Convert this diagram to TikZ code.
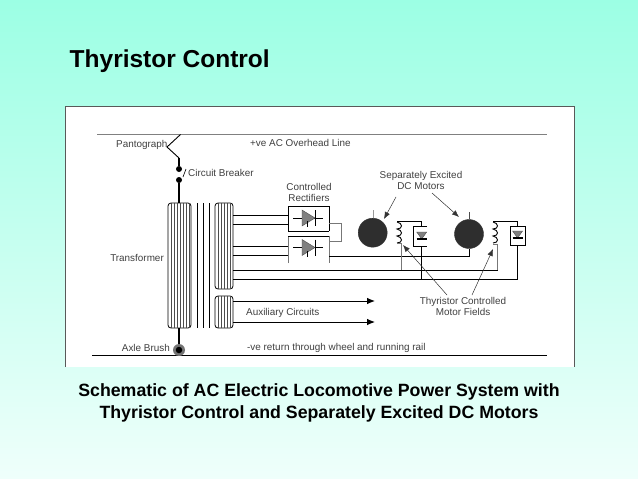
\documentclass[tikz,border=0pt]{standalone}
\usepackage{fontspec}
\setmainfont{Liberation Sans}
\usetikzlibrary{calc,arrows.meta}
\definecolor{slidetop}{HTML}{9CFFE4}
\definecolor{slidebot}{HTML}{EFFFFB}
\definecolor{wiregrey}{HTML}{777777}
\tikzset{
	lbl/.style={inner sep=0pt, text=black!75, font=\fontsize{9.9}{11}\selectfont, align=center},
	wire/.style={line width=0.9pt, color=black},
	thinwire/.style={line width=0.8pt, color=wiregrey},
	feed/.style={line width=1.6pt, color=black},
	pointer/.style={line width=0.5pt, color=black!80, -{Latex[length=7pt, width=5.5pt]}},
	auxfeed/.style={wire, -{Latex[length=8pt, width=6.5pt]}},
	motor/.style={circle, fill=black!82, draw=black!82, inner sep=0pt, minimum size=29pt},
	contact/.style={circle, fill=black, inner sep=0pt, minimum size=6pt},
	heading/.style={inner sep=0pt, font=\bfseries\fontsize{24.5}{28}\selectfont},
	caption/.style={inner sep=0pt, align=center, font=\bfseries\fontsize{17.75}{22}\selectfont}
}
% winding block with vertical hatching: left, top, right, bottom
\def\winding(#1,#2,#3,#4){
	\draw[line width=0.8pt, rounded corners=3pt] (#1, #2) rectangle (#3, #4);
	\foreach \hx in {3, 6, ..., 21} {
		\ifdim\dimexpr #1pt+\hx pt\relax<\dimexpr #3pt\relax
			\draw[line width=0.35pt, color=black!70] (#1+\hx, #2) -- (#1+\hx, #4);
		\fi
	}
}
% field coil: x, top
\def\fieldcoil(#1,#2){
	\draw[line width=0.9pt] (#1, #2) .. controls (#1+6, #2+1) and (#1+6, #2+7) .. (#1, #2+7)
		.. controls (#1+6, #2+8) and (#1+6, #2+14) .. (#1, #2+14)
		.. controls (#1+6, #2+15) and (#1+6, #2+21) .. (#1, #2+21);
}
% thyristor pointing right: centre x, centre y
\def\bigthyristor(#1,#2){
	\draw[line width=0.9pt] (#1-15, #2) -- (#1+15, #2);
	\draw[fill=black!50, draw=black!70] (#1-6, #2-8) -- (#1+7, #2) -- (#1-6, #2+8) -- cycle;
	\draw[line width=1.6pt] (#1+7.5, #2-8) -- (#1+7.5, #2+8);
	\draw[line width=0.8pt] (#1-1, #2+3) -- (#1-1, #2+9);
}
% small thyristor pointing down: centre x, centre y
\def\smallthyristor(#1,#2){
	\draw[fill=black!50, draw=black!70] (#1-5, #2-4) -- (#1+5, #2-4) -- (#1, #2+3) -- cycle;
	\draw[line width=1.1pt] (#1-5, #2+3) -- (#1+5, #2+3);
}

\begin{document}
\begin{tikzpicture}[x=1pt, y=-1pt]
	%%%%% SLIDE %%%%%
	\useasboundingbox (0, 0) rectangle (638, 479);
	\shade[top color=slidetop, bottom color=slidebot] (0, 0) rectangle (638, 479);
	\fill[white] (65, 106) rectangle (574, 367);
	\draw[line width=0.8pt, color=black!65] (65, 367) -- (65, 106) -- (574, 106) -- (574, 367);
	
	\node[heading, anchor=west] (title) at (69.5, 61) {Thyristor Control};
	\node[caption] (caption) at (319, 402.5) {Schematic of AC Electric Locomotive Power System with\\Thyristor Control and Separately Excited DC Motors};
	
	%%%%% LINES %%%%%
	\draw[line width=0.8pt, color=black!50] (97, 134.5) -- (547, 134.5);
	\draw[line width=0.9pt] (92, 355.5) -- (547, 355.5);
	
	\node[lbl, anchor=west] (pantograph) at (116, 145) {Pantograph};
	\node[lbl, anchor=west] (overhead) at (250, 143) {+ve AC Overhead Line};
	\node[lbl, anchor=west] (breaker) at (188, 173) {Circuit Breaker};
	\node[lbl] (controlled) at (309, 192) {Controlled\\Rectifiers};
	\node[lbl, anchor=east] (transformer) at (164, 258) {Transformer};
	\node[lbl, anchor=west] (auxiliary) at (246, 313) {Auxiliary Circuits};
	\node[lbl, anchor=east] (brush) at (170, 348) {Axle Brush};
	\node[lbl, anchor=west] (return) at (247, 348) {-ve return through wheel and running rail};
	\node[lbl] (excited) at (421, 180) {Separately Excited\\DC Motors};
	\node[lbl] (fields) at (463, 306.5) {Thyristor Controlled\\Motor Fields};
	
	%%%%% PANTOGRAPH %%%%%
	\coordinate (panTop) at (180.5, 134.5);
	\coordinate (panKnee) at (167, 147);
	\coordinate (panFoot) at (179, 158);
	\node[contact] (contactA) at (179, 169) {};
	\node[contact] (contactB) at (179, 180) {};
	\coordinate (primTop) at (179, 203);
	\coordinate (primBot) at (179, 328);
	\draw[line width=0.9pt] (panTop) -- (panKnee) -- (panFoot);
	\draw[feed] (panFoot) -- (contactA);
	\draw[feed] (contactB) -- (primTop);
	\draw[line width=0.6pt] (183, 177) -- (186, 169);
	
	%%%%% TRANSFORMER %%%%%
	\winding(168,203,191,328)
	\winding(215,203,233,289)
	\winding(215,296,233,328)
	\foreach \cx in {197, 203, 209} {
		\draw[line width=0.6pt] (\cx, 203) -- (\cx, 328);
	}
	\node[circle, fill=black!55, inner sep=0pt, minimum size=12pt] (axle) at (179, 350) {};
	\node[circle, fill=black, inner sep=0pt, minimum size=6.5pt] at (axle) {};
	\draw[feed] (primBot) -- (axle);
	
	%%%%% RECTIFIERS %%%%%
	\draw[line width=0.8pt] (329, 231) -- (288, 231) -- (288, 206) -- (329, 206) -- (329, 231);
	\draw[thinwire] (288, 263) -- (288, 236);
	\draw[line width=0.8pt] (288, 236) -- (329, 236);
	\draw[thinwire] (329, 236) -- (329, 263);
	\bigthyristor(308,218)
	\bigthyristor(308,247.5)
	
	\draw[wire] (233, 215) -- (288, 215);
	\draw[wire] (233, 224) -- (288, 224);
	\draw[wire] (233, 246) -- (288, 246);
	\draw[wire] (233, 255) -- (288, 255);
	\draw[thinwire] (329, 223) -- (341, 223) -- (341, 241) -- (329, 241);
	
	%%%%% MOTORS %%%%%
	\node[motor] (motorA) at (372.7, 232.7) {};
	\node[motor] (motorB) at (469, 234) {};
	\draw[line width=0.4pt, color=black!40] (372.7, 210) -- (motorA);
	\draw[line width=0.6pt, color=black!70] (469, 212) -- (motorB);
	\draw[wire] (329, 256.7) -- (469, 256.7) -- (motorB);
	\draw[wire] (233, 270) -- (497.7, 270);
	\draw[wire] (233, 279) -- (517.6, 279);
	
	%%%%% FIELDS %%%%%
	\fieldcoil(397,222)
	\draw[wire] (397, 221.5) -- (421.7, 221.5) -- (421.7, 226);
	\draw[thinwire] (397, 243) -- (401.7, 243) -- (401.7, 270);
	\draw[line width=0.8pt] (427, 226) -- (413, 226) -- (413, 246) -- (427, 246);
	\smallthyristor(421.7,236)
	\draw[wire] (421.7, 246) -- (421.7, 279);
	
	\fieldcoil(493,222)
	\draw[wire] (493, 221.5) -- (517.6, 221.5) -- (517.6, 226);
	\draw[thinwire] (493, 244) -- (497.7, 244) -- (497.7, 270);
	\draw[line width=0.8pt] (510, 226) rectangle (525, 245.7);
	\smallthyristor(517.6,235)
	\draw[wire] (517.6, 245.7) -- (517.6, 279);
	
	%%%%% AUXILIARY %%%%%
	\coordinate (auxA) at (375, 301);
	\coordinate (auxB) at (375, 322);
	\draw[auxfeed] (233, 301) -- (auxA);
	\draw[auxfeed] (233, 322) -- (auxB);
	
	%%%%% POINTERS %%%%%
	\coordinate (tipMotorA) at (384, 219);
	\coordinate (tipMotorB) at (459, 217);
	\coordinate (tipCoilA) at (403, 245);
	\coordinate (tipCoilB) at (493, 249);
	\draw[pointer] (396, 197) -- (tipMotorA);
	\draw[pointer] (432, 193) -- (tipMotorB);
	\draw[pointer] (447, 295) -- (tipCoilA);
	\draw[pointer] (472, 295) -- (tipCoilB);
\end{tikzpicture}
\end{document}
